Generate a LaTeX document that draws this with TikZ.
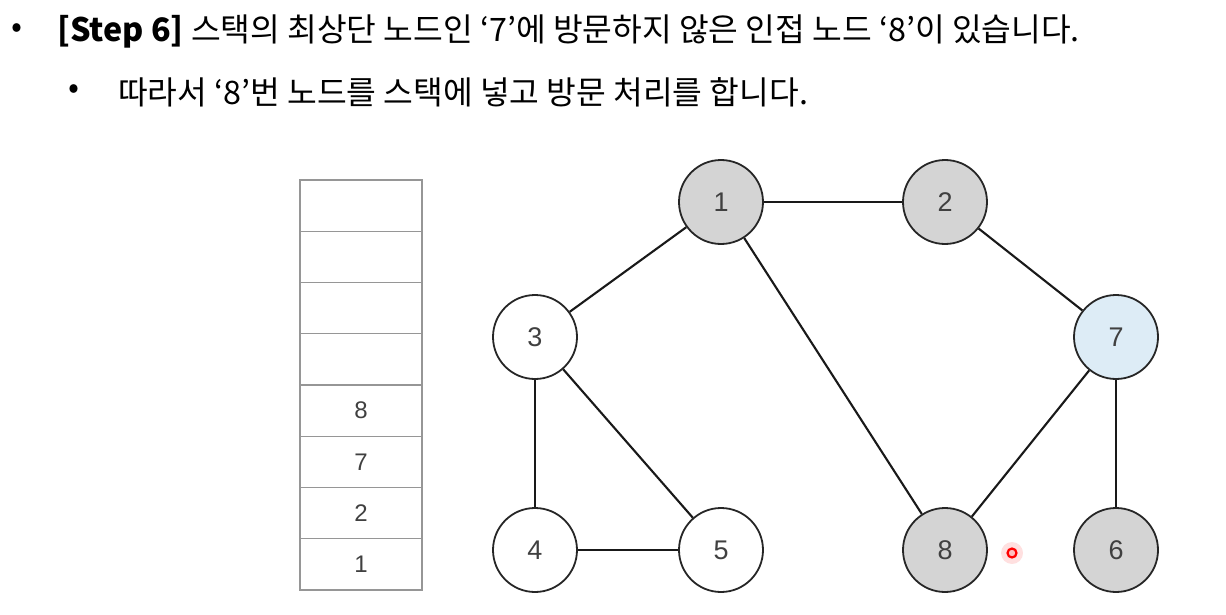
\documentclass[tikz,border=0pt]{standalone}
\usepackage{fontspec}
\setmainfont{Noto Sans CJK KR}
\newfontfamily\numfont{Liberation Sans}
\usetikzlibrary{positioning}
\definecolor{visgray}{RGB}{212,212,212}
\definecolor{topblue}{RGB}{221,236,246}
\definecolor{stackline}{RGB}{150,150,150}
\begin{document}
\begin{tikzpicture}[x=1pt, y=-1pt,
  txt/.style={anchor=west, inner sep=0pt, font=\fontsize{32.3}{38}\selectfont},
  v/.style={circle, draw=black!85, line width=1.8pt, minimum size=84pt, inner sep=0pt,
            font=\numfont\fontsize{27}{30}\selectfont, text=black!75, fill=white},
  vg/.style={v, fill=visgray}, vb/.style={v, fill=topblue},
  cell/.style={rectangle, draw=stackline, line width=1.4pt, outer sep=0pt,
               minimum width=122pt, minimum height=51.25pt, inner sep=0pt,
               font=\numfont\fontsize{24}{27}\selectfont, text=black!75},
  e/.style={line width=2.1pt, black!90}]
\useasboundingbox (0,0) rectangle (1226,615);
% heading
\node[txt] (b1) at (11,31) {•};
\node[txt] (l1) at (57,31) {\textbf{[Step 6]} 스택의 최상단 노드인 ‘7’에 방문하지 않은 인접 노드 ‘8’이 있습니다.};
\node[txt] (b2) at (68,92) {•};
\node[txt] (l2) at (118,92) {따라서 ‘8’번 노드를 스택에 넣고 방문 처리를 합니다.};
% stack
\node[cell] (s1) at (361,564.4) {1};
\node[cell, above=0pt of s1] (s2) {2};
\node[cell, above=0pt of s2] (s3) {7};
\node[cell, above=0pt of s3] (s4) {8};
\node[cell, above=0pt of s4] (s5) {};
\node[cell, above=0pt of s5] (s6) {};
\node[cell, above=0pt of s6] (s7) {};
\node[cell, above=0pt of s7] (s8) {};
% graph
\node[vg] (n1) at (721,202) {1};
\node[vg] (n2) at (945,202) {2};
\node[v]  (n3) at (535,337) {3};
\node[vb] (n7) at (1116,337) {7};
\node[v]  (n4) at (535,550) {4};
\node[v]  (n5) at (721,550) {5};
\node[vg] (n8) at (945,550) {8};
\node[vg] (n6) at (1116,550) {6};
\draw[e] (n1)--(n2); \draw[e] (n1)--(n3); \draw[e] (n1)--(n8);
\draw[e] (n2)--(n7); \draw[e] (n3)--(n4); \draw[e] (n3)--(n5);
\draw[e] (n4)--(n5); \draw[e] (n7)--(n8); \draw[e] (n7)--(n6);
% pointer
\fill[red!12] (1012,553) circle (11pt);
\node[circle, draw=red, line width=2.2pt, fill=red!25, minimum size=9pt, inner sep=0pt] (ptr) at (1012,553) {};
\end{tikzpicture}
\end{document}
